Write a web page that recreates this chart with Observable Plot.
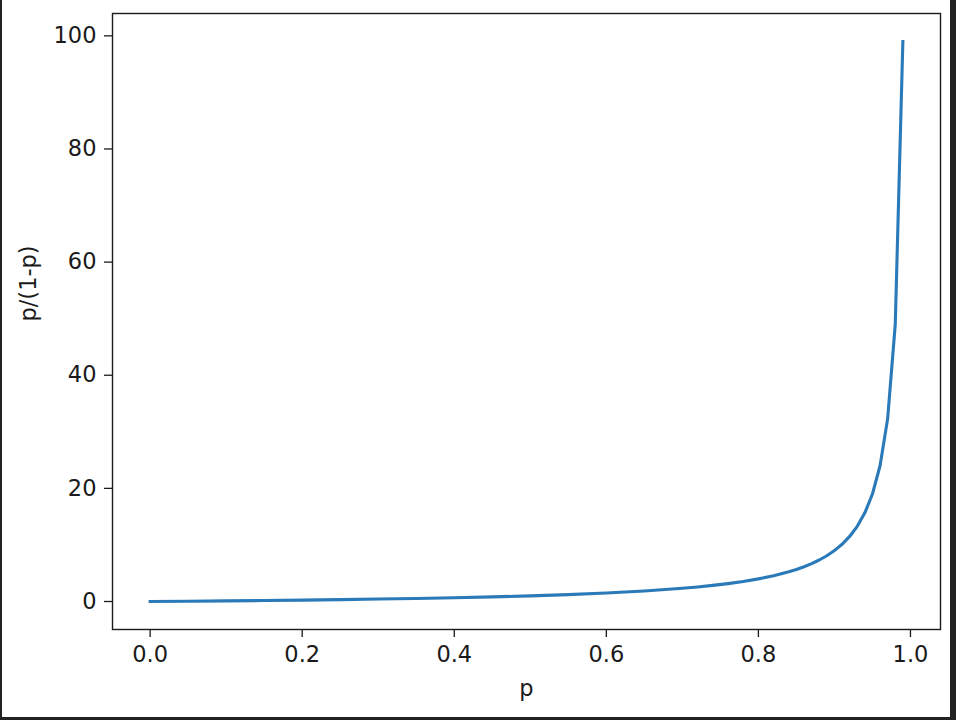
<!DOCTYPE html>
<html>
<head>
<meta charset="utf-8">
<script src="https://cdn.jsdelivr.net/npm/d3@7"></script>
<script src="https://cdn.jsdelivr.net/npm/@observablehq/plot@0.6"></script>
<style>
  html, body { margin: 0; padding: 0; background: #fff; }
  #wrap { position: relative; width: 956px; height: 720px; overflow: hidden; }
  .edge { position: absolute; background: #222; }
</style>
</head>
<body>
<div id="wrap">
  <div id="chart"></div>
  <div class="edge" style="left:0;top:0;width:2px;height:720px"></div>
  <div class="edge" style="right:0;top:0;width:6px;height:720px"></div>
  <div class="edge" style="left:0;bottom:0;width:956px;height:3px"></div>
</div>
<script>
// Values (p vs. p/(1-p))
const pValues = [0.00, 0.05, 0.10, 0.15, 0.20, 0.25, 0.30, 0.35, 0.40, 0.45, 0.50, 0.55, 0.60, 0.65, 0.70,
  0.72, 0.74, 0.76, 0.78, 0.80, 0.82, 0.84, 0.85, 0.86, 0.87, 0.88, 0.89, 0.90,
  0.91, 0.92, 0.93, 0.94, 0.95, 0.96, 0.97, 0.98, 0.99];
const oddsValues = [0, 0.053, 0.111, 0.176, 0.25, 0.333, 0.429, 0.538, 0.667, 0.818, 1.0, 1.222, 1.5, 1.857, 2.333,
  2.571, 2.846, 3.167, 3.545, 4.0, 4.556, 5.25, 5.667, 6.143, 6.692, 7.333, 8.091, 9.0,
  10.11, 11.5, 13.29, 15.67, 19.0, 24.0, 32.33, 49.0, 99.0];
const xTicks = [0.0, 0.2, 0.4, 0.6, 0.8, 1.0];
const yTicks = [0, 20, 40, 60, 80, 100];
const xLabel = "p";
const yLabel = "p/(1-p)";

const data = pValues.map((p, i) => ({p, odds: oddsValues[i]}));

const fontSize = 22.5;
const chart = Plot.plot({
  width: 956,
  height: 720,
  marginLeft: 112,
  marginRight: 16,
  marginTop: 13,
  marginBottom: 91,
  style: {fontFamily: "DejaVu Sans", fontSize: fontSize + "px", color: "#1a1a1a", background: "#fff"},
  x: {domain: [-0.0495, 1.0395]},
  y: {domain: [-4.95, 103.95]},
  marks: [
    Plot.line(data, {x: "p", y: "odds", stroke: "#2a7ab9", strokeWidth: 3.1, strokeLinecap: "square"}),
    Plot.frame({stroke: "#1a1a1a", strokeWidth: 1.4}),
    Plot.axisX({ticks: xTicks, tickFormat: d => d.toFixed(1), tickSize: 8, tickPadding: 9, fontSize: fontSize, label: null, strokeWidth: 1.3}),
    Plot.axisY({ticks: yTicks, tickFormat: d => String(d), tickSize: 8, tickPadding: 8, fontSize: fontSize, label: null, strokeWidth: 1.3}),
    Plot.text([xLabel], {frameAnchor: "bottom", text: d => d, dy: 59, lineAnchor: "middle", fontSize: fontSize, fill: "#1a1a1a"}),
    Plot.text([yLabel], {frameAnchor: "left", text: d => d, dx: -84, rotate: -90, lineAnchor: "middle", fontSize: fontSize, fill: "#1a1a1a"})
  ]
});
document.getElementById("chart").appendChild(chart);
</script>
</body>
</html>
